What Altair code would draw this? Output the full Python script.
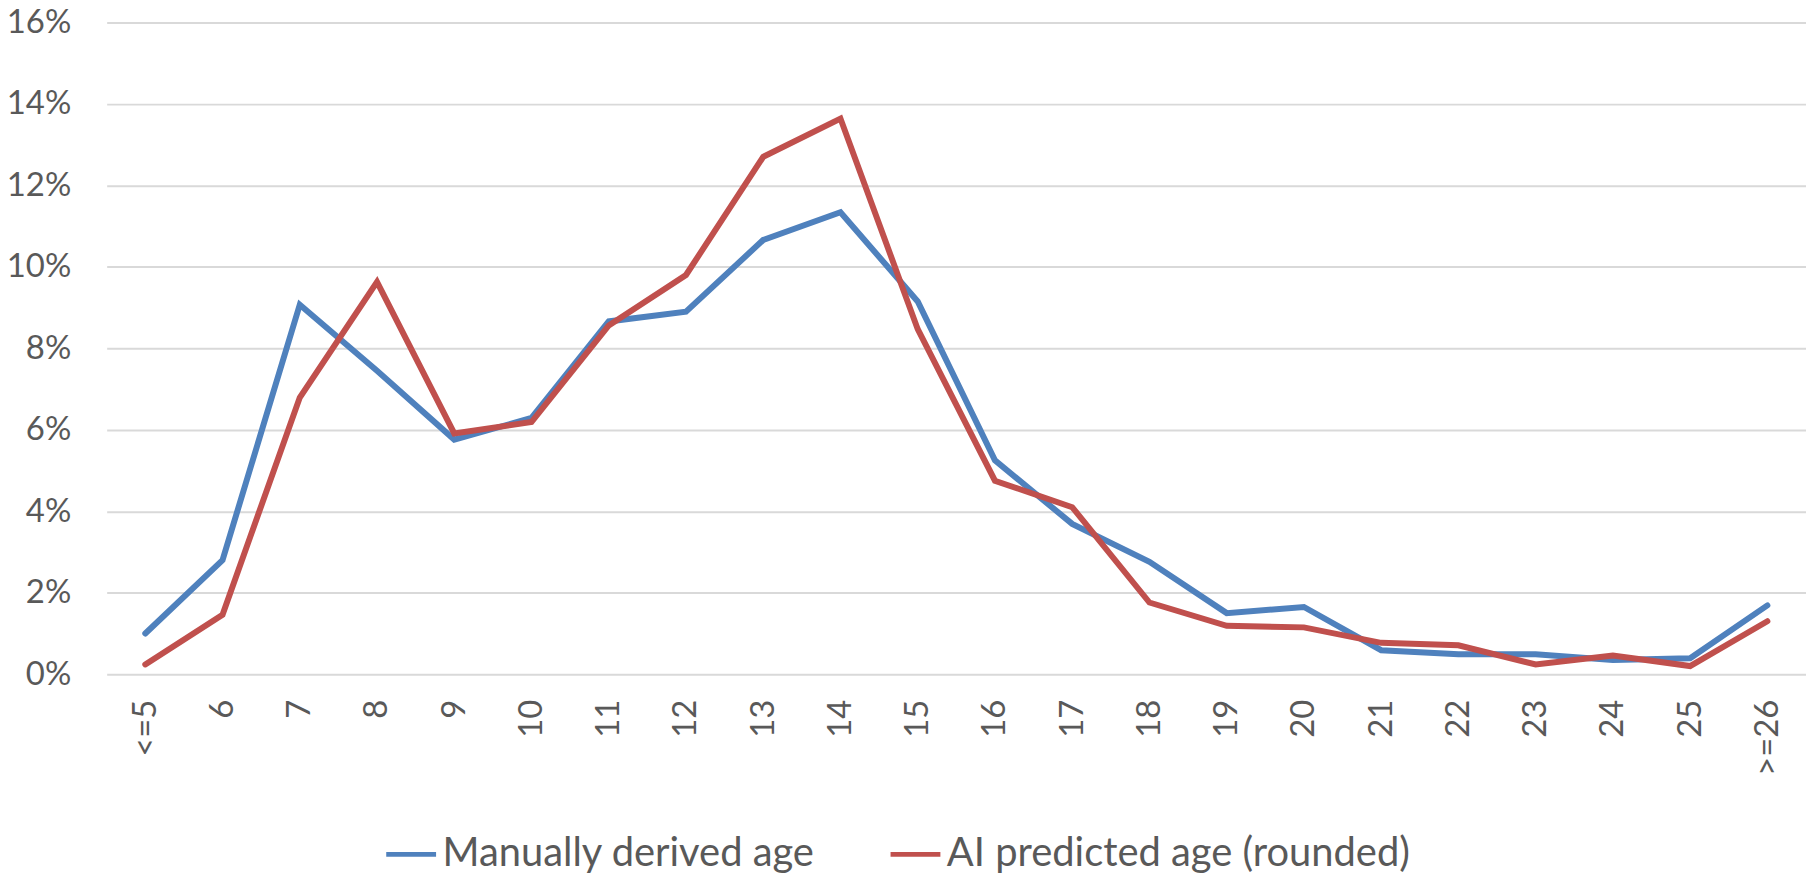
import altair as alt
import pandas as pd

ages = ["<=5", "6", "7", "8", "9", "10", "11", "12", "13", "14", "15", "16",
        "17", "18", "19", "20", "21", "22", "23", "24", "25", ">=26"]

series_names = ["Manually derived age", "AI predicted age (rounded)"]
series_colors = ["#4F81BD", "#C0504D"]

manual = [1.00, 2.80, 9.07, 7.45, 5.76, 6.29, 8.66, 8.90, 10.66, 11.34, 9.15,
          5.25, 3.69, 2.76, 1.50, 1.65, 0.59, 0.49, 0.49, 0.35, 0.39, 1.69]
ai_pred = [0.24, 1.46, 6.79, 9.63, 5.91, 6.19, 8.56, 9.80, 12.70, 13.64, 8.47,
           4.75, 4.10, 1.76, 1.19, 1.15, 0.77, 0.71, 0.24, 0.46, 0.20, 1.30]

y_ticks = [0, 2, 4, 6, 8, 10, 12, 14, 16]

rows = []
for i, a in enumerate(ages):
    rows.append({"age": a, "series": series_names[0], "pct": manual[i], "order": i})
for i, a in enumerate(ages):
    rows.append({"age": a, "series": series_names[1], "pct": ai_pred[i], "order": i})
df = pd.DataFrame(rows)

FONT = "Lato"
TXT = "#595959"
FS = 33

chart = alt.Chart(df).mark_line(strokeWidth=6, strokeCap="round", strokeJoin="miter").encode(
    x=alt.X("age:N", sort=ages,
            scale=alt.Scale(type="point", padding=0.5),
            axis=alt.Axis(title=None, labelAngle=270, labelAlign="right", labelBaseline="middle",
                          labelPadding=25, ticks=False, domain=False, grid=False,
                          labelFont=FONT, labelFontSize=FS, labelColor=TXT)),
    y=alt.Y("pct:Q",
            scale=alt.Scale(domain=[0, 16], nice=False),
            axis=alt.Axis(title=None, values=y_ticks, labelExpr="datum.value + '%'",
                          ticks=False, domain=False, grid=True, gridColor="#D9D9D9",
                          gridWidth=2, labelPadding=36,
                          labelFont=FONT, labelFontSize=FS, labelColor=TXT)),
    color=alt.Color("series:N",
                    scale=alt.Scale(domain=series_names, range=series_colors),
                    legend=alt.Legend(title=None, orient="none", direction="horizontal",
                                      legendX=278, legendY=807,
                                      symbolType="stroke", symbolSize=2500,
                                      symbolStrokeWidth=5, labelOffset=4,
                                      columnPadding=65, labelLimit=1000,
                                      labelFont=FONT, labelFontSize=40, labelColor=TXT)),
    order=alt.Order("order:Q"),
).properties(
    width=1705, height=654,
    background="white",
    autosize=alt.AutoSizeParams(type="none"),
    padding={"left": 99, "top": 13, "right": 0, "bottom": 199},
).configure_view(stroke=None)

chart.save("out.html", embed_options={"renderer": "svg", "actions": False})
